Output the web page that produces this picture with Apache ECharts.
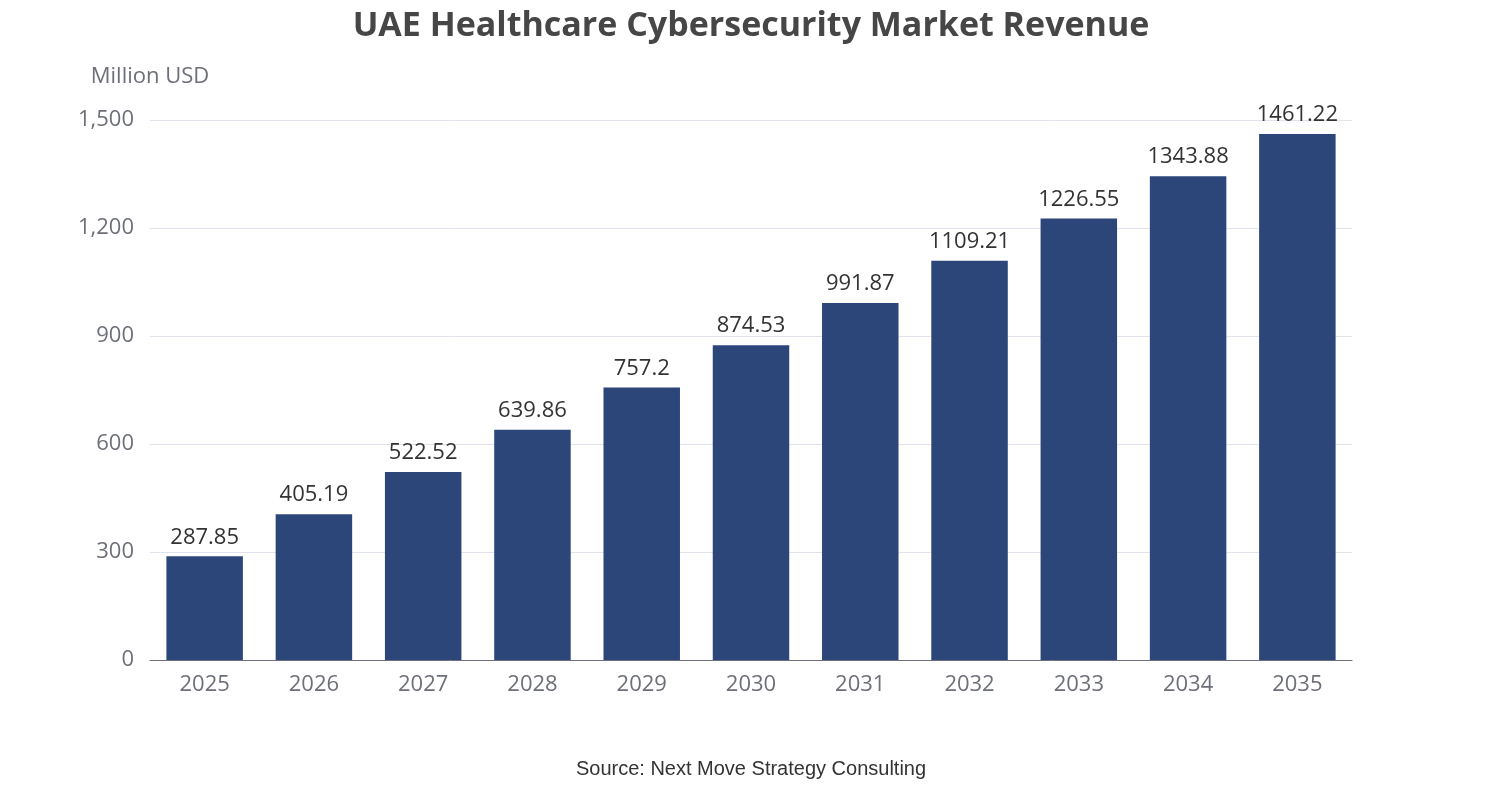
<!DOCTYPE html>
<html>
<head>
<meta charset="utf-8">
<script src="https://cdn.jsdelivr.net/npm/echarts@6/dist/echarts.min.js"></script>
<style>
html,body{margin:0;padding:0;background:#fff;}
#chart{width:1502px;height:800px;}
</style>
</head>
<body>
<div id="chart"></div>
<script>
var years = ['2025','2026','2027','2028','2029','2030','2031','2032','2033','2034','2035'];
var revenue = [287.85, 405.19, 522.52, 639.86, 757.2, 874.53, 991.87, 1109.21, 1226.55, 1343.88, 1461.22];

var chart = echarts.init(document.getElementById('chart'));
chart.setOption({
	title : [{
		text : 'UAE Healthcare Cybersecurity Market Revenue',
		left : 'center',
		top : 4,
		textStyle : { fontSize : 34, fontWeight : 'bold', color : '#464646', fontFamily : 'Open Sans' }
	}, {
		text : 'Source: Next Move Strategy Consulting',
		left : 'center',
		top : 754,
		textStyle : { fontSize : 20, fontWeight : 'normal', color : '#333', fontFamily : 'Liberation Sans' }
	}],
	grid : { left : 150, right : 150, top : 120, bottom : 140 },
	xAxis : {
		type : 'category',
		data : years,
		axisLine : { lineStyle : { color : '#6e7079' } },
		axisTick : { lineStyle : { color : '#6e7079' } },
		axisLabel : { fontSize : 22, color : '#6e7079', margin : 14, fontFamily : 'Open Sans' }
	},
	yAxis : {
		type : 'value',
		min : 0,
		max : 1500,
		interval : 300,
		name : 'Million USD',
		nameGap : 32,
		nameTextStyle : { fontSize : 22, color : '#6e7079', align : 'center', fontFamily : 'Open Sans' },
		axisLabel : { fontSize : 22, color : '#6e7079', margin : 16, fontFamily : 'Open Sans' },
		splitLine : { lineStyle : { color : '#e0e3ec' } }
	},
	series : [{
		type : 'bar',
		data : revenue,
		barWidth : '70%',
		itemStyle : { color : '#2c4679' },
		label : { show : true, position : 'top', fontSize : 22, color : '#333', distance : 8, fontFamily : 'Open Sans' }
	}]
});
</script>
</body>
</html>
